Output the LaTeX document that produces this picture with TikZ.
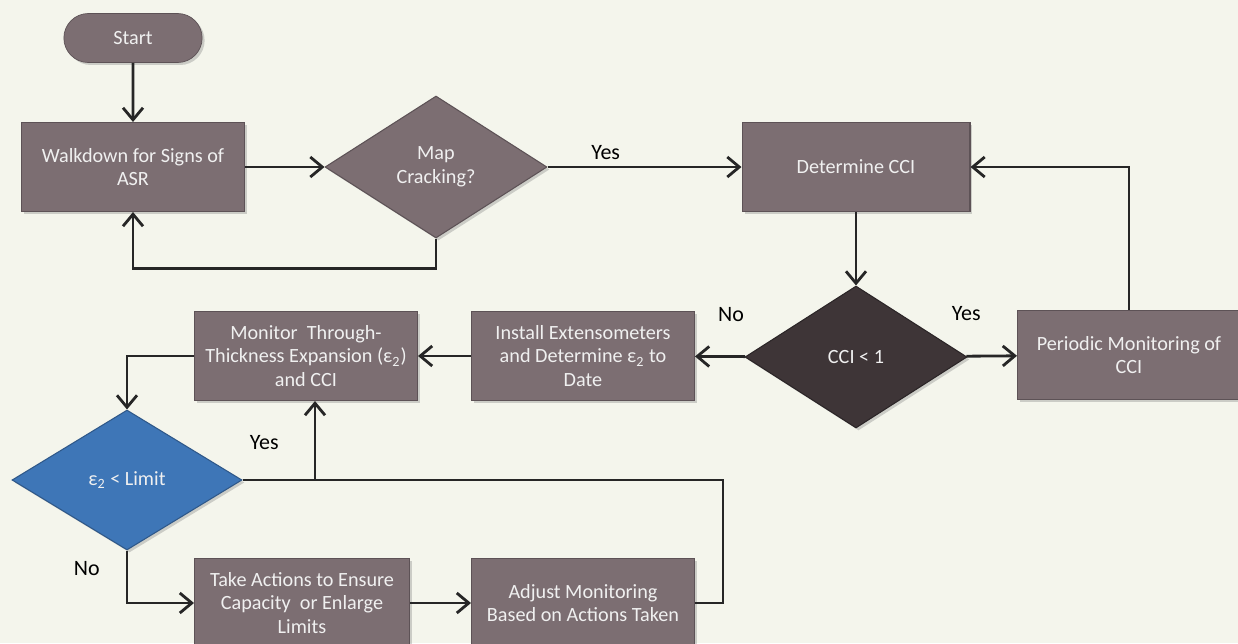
\documentclass[tikz,border=0pt]{standalone}
\usepackage{fontspec}
\setmainfont{Carlito}
\usetikzlibrary{shapes.geometric,shapes.misc,arrows.meta,shadows}
\definecolor{boxgrey}{RGB}{124,110,114}
\definecolor{darkgem}{RGB}{62,53,55}
\definecolor{limblue}{RGB}{62,118,183}
\definecolor{paper}{RGB}{244,245,236}

\begin{document}
\begin{tikzpicture}[x=0.02cm,y=-0.02cm,
    font=\fontsize{11.5}{13.4}\selectfont,
    block/.style={rectangle, fill=boxgrey, draw=boxgrey!75!black, line width=0.6pt,
        text=white!94!black, align=center, minimum width=4.46cm, minimum height=1.78cm, inner sep=2pt,
        drop shadow={shadow xshift=0.5mm, shadow yshift=-0.5mm, opacity=0.35}},
    decide/.style={diamond, fill=boxgrey, draw=boxgrey!75!black, line width=0.6pt,
        text=white!94!black, align=center, minimum width=4.44cm, minimum height=2.84cm, inner sep=0pt,
        drop shadow={shadow xshift=0.5mm, shadow yshift=-0.5mm, opacity=0.35}},
    flow/.style={-{Straight Barb[length=2.4mm,width=4mm]}, line width=1.6pt, draw=black!85},
    lbl/.style={font=\fontsize{12.5}{14}\selectfont, text=black}]

    \clip (0,0) rectangle (1238,643);
    \fill[paper] (0,0) rectangle (1238,643);

    % Nodes
    \node[rounded rectangle, fill=boxgrey, draw=boxgrey!75!black, text=white!94!black,
        minimum width=3cm, minimum height=0.98cm,
        drop shadow={shadow xshift=0.5mm, shadow yshift=-0.5mm, opacity=0.35}] (Start) at (133,38) {Start};
    \node[block] (Walk) at (133,167) {Walkdown for Signs of\\ASR};
    \node[decide] (Map) at (436,167) {Map\\Cracking?};
    \node[block, minimum width=4.56cm] (Det) at (856,167) {Determine CCI};
    \node[decide, fill=darkgem, draw=darkgem!70!black] (CCI) at (856,357) {CCI < 1};
    \node[block] (Peri) at (1129,355) {Periodic Monitoring of\\CCI};
    \node[block] (Inst) at (583,356) {Install Extensometers\\and Determine ε\textsubscript{2} to\\Date};
    \node[block] (Mon) at (306,356) {Monitor~ Through-\\Thickness Expansion (ε\textsubscript{2})\\and CCI};
    \node[decide, fill=limblue, draw=limblue!75!black, minimum width=4.6cm, minimum height=2.8cm] (Lim) at (127,480) {ε\textsubscript{2} < Limit};
    \node[block, minimum width=4.3cm] (Take) at (302,603) {Take Actions to Ensure\\Capacity~ or Enlarge\\Limits};
    \node[block] (Adj) at (583,603) {Adjust Monitoring\\Based on Actions Taken};
    \coordinate (J) at (315,480);

    % Arrows
    \draw[flow] (Start) -- (Walk);
    \draw[flow] (Walk) -- (Map);
    \draw[flow] (Map.south) -- ++(0,30) -| (Walk.south);
    \draw[flow] (Map) -- node[lbl, above, pos=0.3] {Yes} (Det);
    \draw[flow] (Det) -- (CCI);
    \draw[flow] (CCI) -- node[lbl, above=0.56cm, pos=0] {Yes} (Peri);
    \draw[flow] (Peri.north) |- (Det.east);
    \draw[flow] (CCI) -- node[lbl, above=0.56cm, pos=0.28] {No} (Inst);
    \draw[flow] (Inst) -- (Mon);
    \draw[flow] (Mon.west) -| (Lim.north);
    \draw[flow] (Lim.east) -- node[lbl, above=0.46cm, pos=0.3] {Yes} (J) -- (Mon.south -| J);
    \draw[flow] (Lim.south) |- node[lbl, left=0.4cm, pos=0.17] {No} (Take.west);
    \draw[flow] (Take) -- (Adj);
    \draw[line width=1.6pt, draw=black!85] (Adj.east) -- ++(28,0) |- (J);
\end{tikzpicture}
\end{document}
